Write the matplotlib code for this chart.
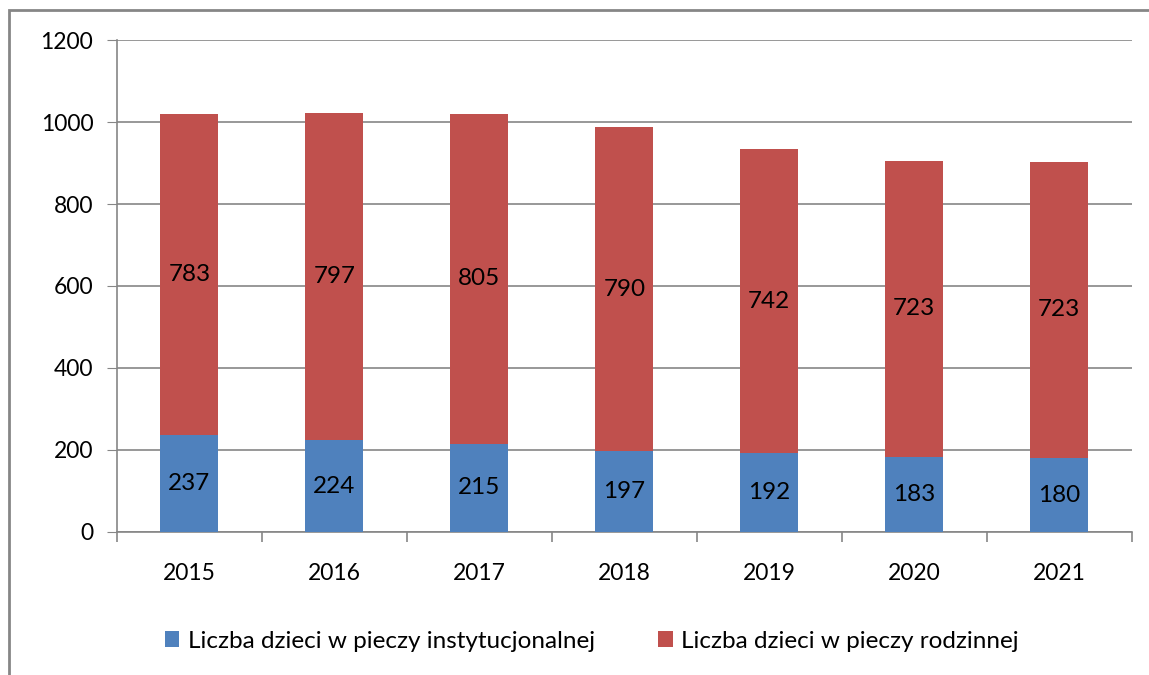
import matplotlib.pyplot as plt
import matplotlib.patches as mpatches
import numpy as np

plt.rcParams['font.family'] = ['Lato', 'DejaVu Sans']

years = ['2015', '2016', '2017', '2018', '2019', '2020', '2021']
instytucjonalna = [237, 224, 215, 197, 192, 183, 180]
rodzinna = [783, 797, 805, 790, 742, 723, 723]

blue = '#4F81BD'
red = '#C0504D'
gray = '#868686'

fig = plt.figure(figsize=(11.49, 6.75), dpi=100)
ax = fig.add_axes([0.1018, 0.2119, 0.8832, 0.7288])

x = np.arange(len(years))
b1 = ax.bar(x, instytucjonalna, width=0.4, color=blue, label='Liczba dzieci w pieczy instytucjonalnej', zorder=3)
b2 = ax.bar(x, rodzinna, width=0.4, bottom=instytucjonalna, color=red, label='Liczba dzieci w pieczy rodzinnej', zorder=3)

for i in range(len(years)):
	ax.text(x[i], instytucjonalna[i] / 2, str(instytucjonalna[i]), ha='center', va='center', fontsize=17.5, zorder=4)
	ax.text(x[i], instytucjonalna[i] + rodzinna[i] / 2, str(rodzinna[i]), ha='center', va='center', fontsize=17.5, zorder=4)

ax.set_xlim(-0.5, len(years) - 0.5)
ax.set_ylim(0, 1200)
ax.set_yticks(range(0, 1201, 200))
ax.tick_params(axis='y', labelsize=16.5, length=7, color=gray, pad=10)
ax.set_xticks(x)
ax.set_xticklabels(years)
ax.tick_params(axis='x', length=0, labelsize=16.5, pad=22)
ax.set_xticks(np.arange(-0.5, len(years)), minor=True)
ax.tick_params(axis='x', which='minor', length=7, color=gray, width=1.2)
ax.yaxis.grid(True, color=gray, linewidth=1.2, zorder=0)
for s in ['top', 'right']:
	ax.spines[s].set_visible(False)
for s in ['left', 'bottom']:
	ax.spines[s].set_color(gray)
	ax.spines[s].set_linewidth(1.2)

fig.legend(handles=[b1, b2], loc='center', bbox_to_anchor=(0.515, 0.05), ncol=2, frameon=False,
	fontsize=17.5, handlelength=0.6, handleheight=0.6, handletextpad=0.35, columnspacing=2.6)

border = mpatches.Rectangle((9 / 1149, -0.1), 1.2, 1.1 - 10 / 675, transform=fig.transFigure,
	fill=False, edgecolor=gray, linewidth=2)
fig.patches.append(border)

fig.savefig('out.png', dpi=100)
